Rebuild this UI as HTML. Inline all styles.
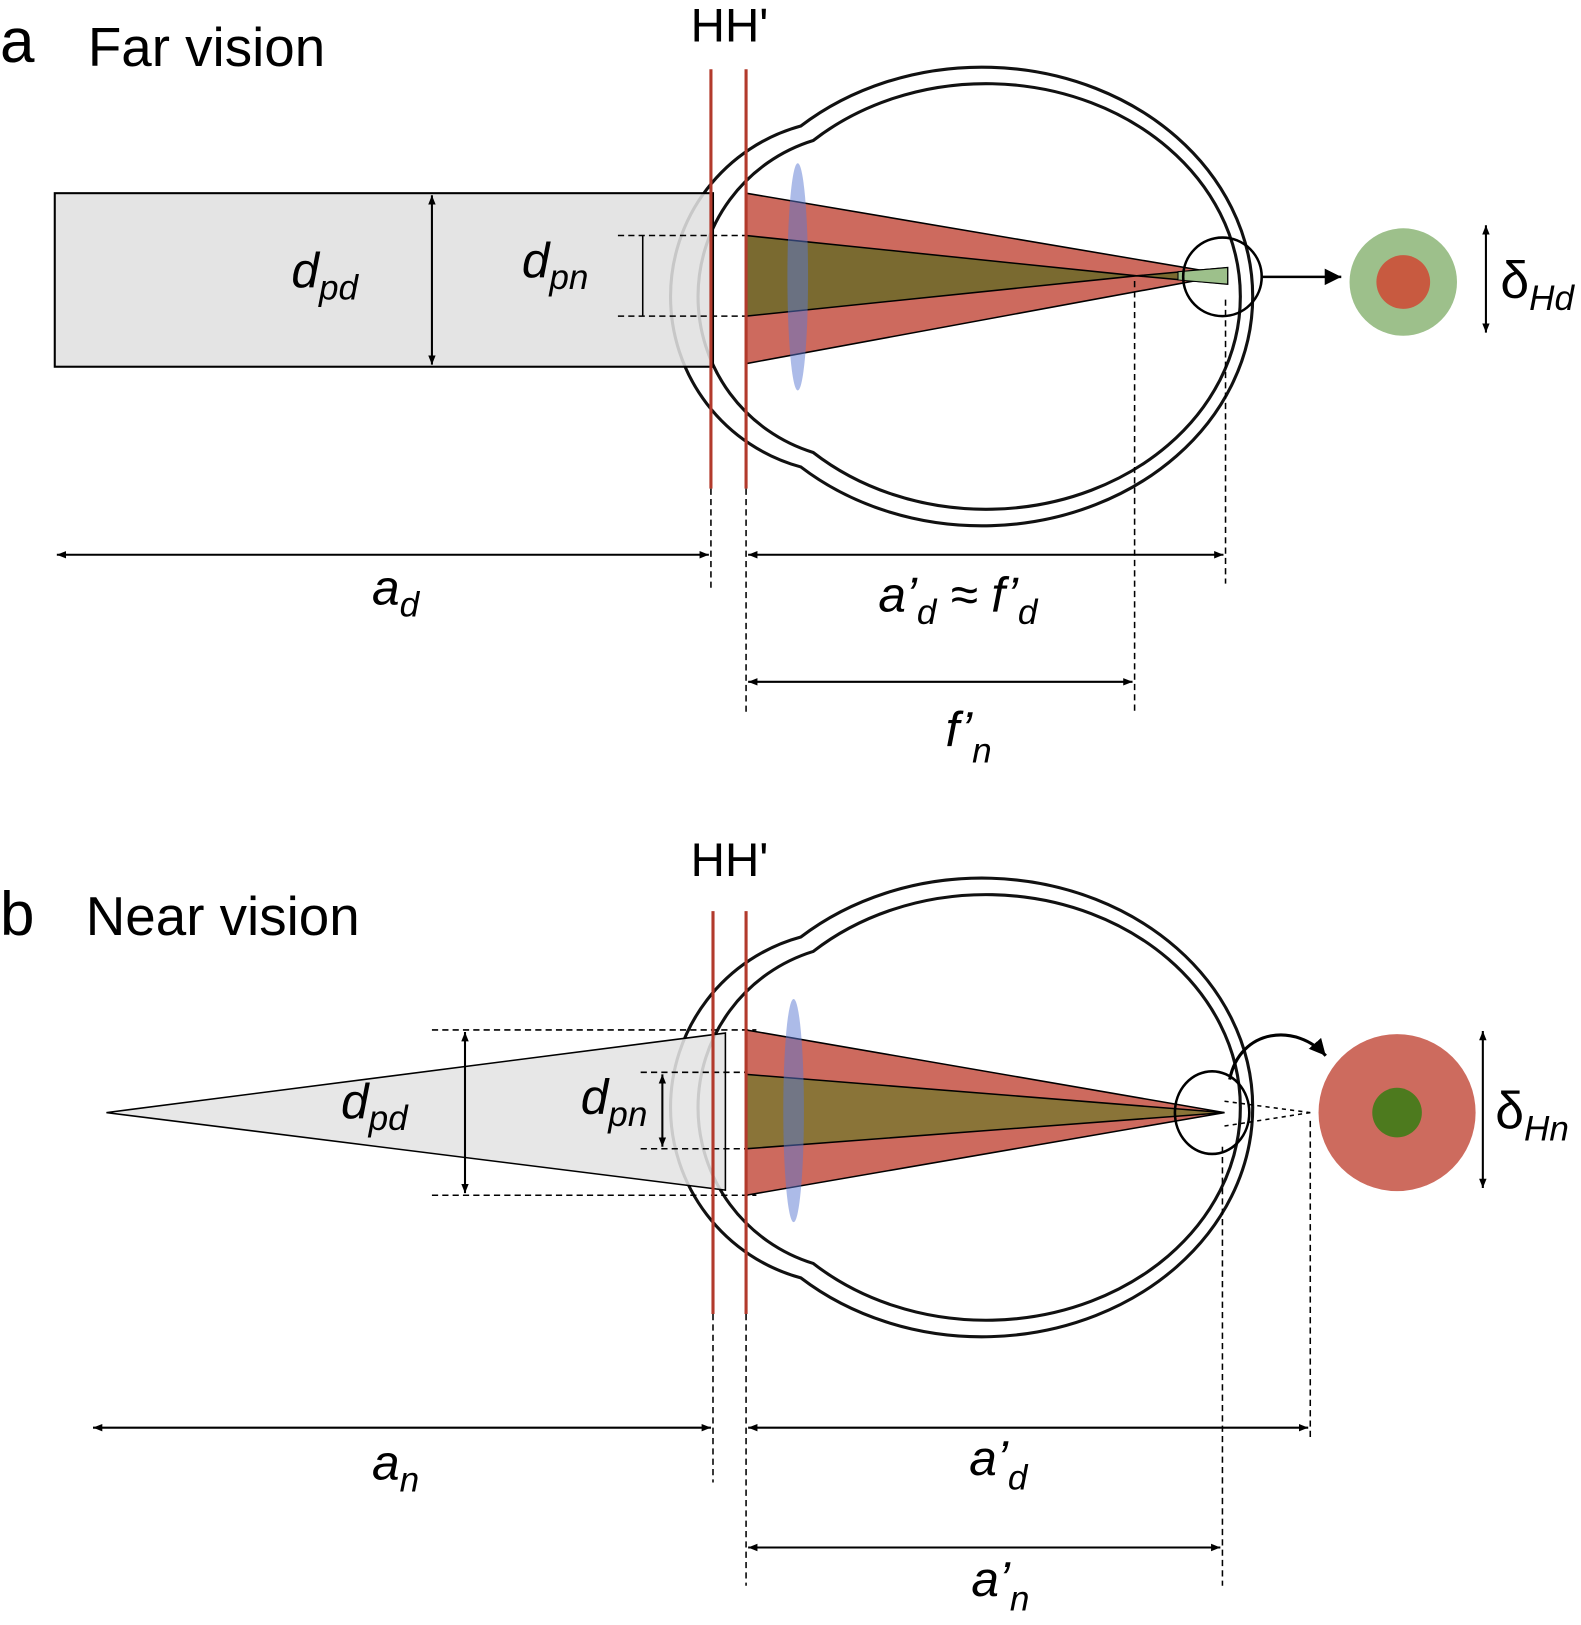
<!DOCTYPE html>
<html><head><meta charset="utf-8"><style>
html,body{margin:0;padding:0;background:#fff}
svg{display:block}
text{font-family:"Liberation Sans",sans-serif;fill:#000}
.it{font-style:italic}
</style></head><body>
<svg width="1581" height="1625" viewBox="0 0 1530 1573" preserveAspectRatio="none" xmlns="http://www.w3.org/2000/svg">
<defs>
<marker id="ah" viewBox="0 0 10 10" refX="10" refY="5" markerWidth="9" markerHeight="9" orient="auto-start-reverse" markerUnits="userSpaceOnUse"><path d="M0,1 L10,5 L0,9 Z" fill="#000"/></marker>
<marker id="ahb" viewBox="0 0 10 10" refX="10" refY="5" markerWidth="16" markerHeight="16" orient="auto" markerUnits="userSpaceOnUse"><path d="M0,0 L10,5 L0,10 Z" fill="#000"/></marker>
<g id="eye">
<path d="M775,122 A262,222 0 1,1 775,452 A171,171 0 0,1 775,122 Z" fill="#fff" stroke="#111" stroke-width="3"/>
<path d="M787,136 A246,206 0 1,1 787,438 A158,158 0 0,1 787,136 Z" fill="none" stroke="#111" stroke-width="3"/>
</g>
</defs>

<!-- Panel a -->
<text x="0" y="60" font-size="60">a</text>
<text x="85" y="64" font-size="53">Far vision</text>
<text x="706" y="40" font-size="46" text-anchor="middle">HH'</text>
<use href="#eye"/>
<rect x="53" y="187" width="637" height="168" fill="#e0e0e0" fill-opacity="0.88" stroke="#000" stroke-width="2"/>
<line x1="418" y1="189" x2="418" y2="353" stroke="#000" stroke-width="2" marker-start="url(#ah)" marker-end="url(#ah)"/>
<text x="282" y="278" font-size="48" class="it">d<tspan font-size="34" dy="12">pd</tspan></text>
<line x1="598" y1="228" x2="722" y2="228" stroke="#000" stroke-width="1.5" stroke-dasharray="6,4"/>
<line x1="598" y1="306" x2="722" y2="306" stroke="#000" stroke-width="1.5" stroke-dasharray="6,4"/>
<line x1="622" y1="228" x2="622" y2="306" stroke="#000" stroke-width="1.5"/>
<text x="505" y="268" font-size="48" class="it">d<tspan font-size="34" dy="12">pn</tspan></text>
<polygon points="722,187 722,352 1188,266" fill="#cd6a5e" stroke="#000" stroke-width="1.5"/>
<polygon points="722,228 722,306 1100,267 1188,259 1188,275 1100,267" fill="#7a6a30" stroke="#000" stroke-width="1.5"/>
<polygon points="1140,263 1188,259 1188,275 1140,271" fill="#9dc08b" stroke="#000" stroke-width="1"/>
<ellipse cx="772" cy="268" rx="10" ry="110" fill="rgb(90,120,210)" fill-opacity="0.5"/>
<line x1="688" y1="67" x2="688" y2="473" stroke="#b23a2c" stroke-width="3"/>
<line x1="722" y1="67" x2="722" y2="473" stroke="#b23a2c" stroke-width="3"/>
<circle cx="1183" cy="268" r="38" fill="none" stroke="#000" stroke-width="2.5"/>
<line x1="1222" y1="268" x2="1298" y2="268" stroke="#000" stroke-width="2.5" marker-end="url(#ahb)"/>
<circle cx="1358" cy="273" r="52" fill="#9dc08b"/>
<circle cx="1358" cy="273" r="26" fill="#c85a40"/>
<line x1="1438" y1="218" x2="1438" y2="322" stroke="#000" stroke-width="2" marker-start="url(#ah)" marker-end="url(#ah)"/>
<text x="1452" y="288" font-size="50">δ<tspan font-size="34" dy="12" class="it">Hd</tspan></text>
<g stroke="#000" stroke-width="1.5" stroke-dasharray="6,4">
<line x1="688" y1="473" x2="688" y2="572"/>
<line x1="722" y1="473" x2="722" y2="690"/>
<line x1="1098" y1="272" x2="1098" y2="688"/>
<line x1="1186" y1="290" x2="1186" y2="565"/>
</g>
<line x1="55" y1="537" x2="686" y2="537" stroke="#000" stroke-width="2" marker-start="url(#ah)" marker-end="url(#ah)"/>
<line x1="724" y1="537" x2="1184" y2="537" stroke="#000" stroke-width="2" marker-start="url(#ah)" marker-end="url(#ah)"/>
<line x1="724" y1="660" x2="1096" y2="660" stroke="#000" stroke-width="2" marker-start="url(#ah)" marker-end="url(#ah)"/>
<text x="360" y="585" font-size="48" class="it">a<tspan font-size="34" dy="12">d</tspan></text>
<text x="850" y="592" font-size="48" class="it">a’<tspan font-size="34" dy="12">d</tspan><tspan dy="-12"> ≈ f’</tspan><tspan font-size="34" dy="12">d</tspan></text>
<text x="915" y="722" font-size="48" class="it">f’<tspan font-size="34" dy="16">n</tspan></text>

<!-- Panel b -->
<text x="0" y="905" font-size="60">b</text>
<text x="83" y="905" font-size="53">Near vision</text>
<text x="706" y="848" font-size="46" text-anchor="middle">HH'</text>
<use href="#eye" transform="translate(0,785)"/>
<polygon points="103,1077 702,1000 702,1152" fill="#e4e4e4" fill-opacity="0.88" stroke="#000" stroke-width="1.5"/>
<g stroke="#000" stroke-width="1.5" stroke-dasharray="6,4">
<line x1="418" y1="997" x2="732" y2="997"/>
<line x1="418" y1="1157" x2="732" y2="1157"/>
<line x1="620" y1="1038" x2="732" y2="1038"/>
<line x1="620" y1="1112" x2="732" y2="1112"/>
</g>
<line x1="450" y1="999" x2="450" y2="1155" stroke="#000" stroke-width="2" marker-start="url(#ah)" marker-end="url(#ah)"/>
<line x1="641" y1="1040" x2="641" y2="1110" stroke="#000" stroke-width="2" marker-start="url(#ah)" marker-end="url(#ah)"/>
<text x="330" y="1082" font-size="48" class="it">d<tspan font-size="34" dy="12">pd</tspan></text>
<text x="562" y="1078" font-size="48" class="it">d<tspan font-size="34" dy="12">pn</tspan></text>
<polygon points="722,997 722,1157 1185,1077" fill="#cd6a5e" stroke="#000" stroke-width="1.5"/>
<polygon points="722,1040 722,1112 1185,1077" fill="#8a7438" stroke="#000" stroke-width="1.5"/>
<ellipse cx="768" cy="1075" rx="10" ry="108" fill="rgb(90,120,210)" fill-opacity="0.5"/>
<line x1="690" y1="882" x2="690" y2="1272" stroke="#b23a2c" stroke-width="3"/>
<line x1="722" y1="882" x2="722" y2="1272" stroke="#b23a2c" stroke-width="3"/>
<ellipse cx="1173" cy="1077" rx="36" ry="40" fill="none" stroke="#000" stroke-width="2.5"/>
<g stroke="#000" stroke-width="1.5" stroke-dasharray="4,4">
<line x1="1185" y1="1066" x2="1268" y2="1077"/>
<line x1="1185" y1="1090" x2="1268" y2="1077"/>
</g>
<path d="M1190,1045 C1200,995 1255,990 1283,1022" fill="none" stroke="#000" stroke-width="3" marker-end="url(#ahb)"/>
<circle cx="1352" cy="1077" r="76" fill="#cd6b5e"/>
<circle cx="1352" cy="1077" r="24" fill="#4d7a1e"/>
<line x1="1435" y1="998" x2="1435" y2="1150" stroke="#000" stroke-width="2" marker-start="url(#ah)" marker-end="url(#ah)"/>
<text x="1447" y="1092" font-size="50">δ<tspan font-size="34" dy="12" class="it">Hn</tspan></text>
<g stroke="#000" stroke-width="1.5" stroke-dasharray="6,4">
<line x1="690" y1="1272" x2="690" y2="1435"/>
<line x1="722" y1="1272" x2="722" y2="1535"/>
<line x1="1183" y1="1110" x2="1183" y2="1535"/>
<line x1="1268" y1="1085" x2="1268" y2="1395"/>
</g>
<line x1="90" y1="1382" x2="688" y2="1382" stroke="#000" stroke-width="2" marker-start="url(#ah)" marker-end="url(#ah)"/>
<line x1="724" y1="1382" x2="1266" y2="1382" stroke="#000" stroke-width="2" marker-start="url(#ah)" marker-end="url(#ah)"/>
<line x1="724" y1="1498" x2="1181" y2="1498" stroke="#000" stroke-width="2" marker-start="url(#ah)" marker-end="url(#ah)"/>
<text x="360" y="1432" font-size="48" class="it">a<tspan font-size="34" dy="12">n</tspan></text>
<text x="938" y="1428" font-size="48" class="it">a’<tspan font-size="34" dy="14">d</tspan></text>
<text x="940" y="1545" font-size="48" class="it">a’<tspan font-size="34" dy="14">n</tspan></text>
</svg>
</body></html>
